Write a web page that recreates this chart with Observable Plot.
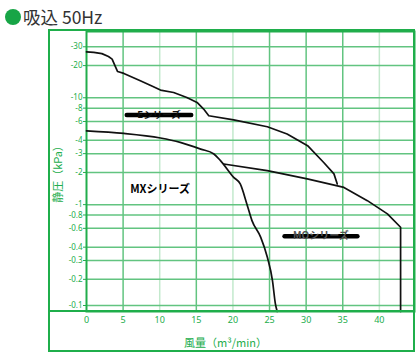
<!DOCTYPE html>
<html>
<head>
<meta charset="utf-8">
<script src="https://cdn.jsdelivr.net/npm/d3@7"></script>
<script src="https://cdn.jsdelivr.net/npm/@observablehq/plot@0.6"></script>
<style>
  html, body { margin: 0; padding: 0; background: #fff; }
  #wrap { position: relative; width: 420px; height: 356px; overflow: hidden; font-family: "Noto Sans CJK JP", "Noto Sans", sans-serif; }
  #title { position: absolute; left: 0; top: 0; height: 26px; width: 420px; }
  #dot { position: absolute; left: 5px; top: 9px; width: 16px; height: 16px; border-radius: 50%; background: #17a546; }
  #ttext { position: absolute; left: 23px; top: 6px; font-size: 17.5px; line-height: 22px; color: #333; white-space: nowrap; }
  #chart { position: absolute; left: 0; top: 26px; }
  #outer { position: absolute; left: 48px; top: 29px; width: 367px; height: 323px; box-sizing: border-box; border: 2px solid #1fae4b; pointer-events: none; }
  #bottomline { position: absolute; left: 48px; top: 310px; width: 367px; height: 2px; background: #1fae4b; }
</style>
</head>
<body>
<div id="wrap">
  <div id="title"><div id="dot"></div><div id="ttext">吸込 50Hz</div></div>
  <div id="chart"></div>
  <div id="outer"></div>
  <div id="bottomline"></div>
</div>
<script>
// ---- data ----
const xTicks = [0, 5, 10, 15, 20, 25, 30, 35, 40];
const xGridMajor = [5, 15, 25, 30, 35];
const xGridLight = [10, 20, 40];
const yTicks = [30, 20, 10, 8, 6, 4, 3, 2, 1, 0.8, 0.6, 0.4, 0.3, 0.2];
const yTickBottom = [0.1];

// Eシリーズ
const eX = [0, 1, 2.1, 3.0, 3.5, 3.9, 4.25, 5.1, 7.35, 9, 10.1, 11.9, 13.7, 15.1, 16.0, 16.7, 20.1, 24.7, 27.4, 30.2, 32.4, 33.8, 34.25];
const eY = [26.9, 26.6, 25.9, 24.3, 23, 19.9, 17.6, 16.9, 14.4, 12.8, 11.8, 11.2, 10.07, 9.04, 7.84, 6.79, 6.2, 5.36, 4.58, 3.56, 2.48, 1.94, 1.56];

// MXシリーズ
const mxX = [0, 5.1, 10.1, 12.8, 15.6, 17.4, 18.3, 20.1, 21.0, 21.9, 22.6, 23.8, 24.7, 25.4, 25.8, 26.05];
const mxY = [4.9, 4.64, 4.2, 3.82, 3.31, 2.98, 2.58, 1.80, 1.56, 1.015, 0.709, 0.494, 0.322, 0.195, 0.118, 0.1];

// MOシリーズ
const moX = [18.74, 24.68, 30.15, 35.16, 38.36, 41.1, 42.9, 42.9];
const moY = [2.40, 2.08, 1.74, 1.45, 1.09, 0.819, 0.614, 0.1];

// series labels
const labelText = ["Eシリーズ", "MXシリーズ", "MOシリーズ"];
const labelX = [9.9, 10.05, 32.0];
const labelY = [6.89, 1.40, 0.506];
const strikeX1 = [5.5, 27.05];
const strikeX2 = [14.3, 37.0];
const strikeY = [6.89, 0.506];

const green = "#22ad4c";
const gridMid = "#62c480";
const gridLight = "#c3e9cd";
const font = "'Noto Sans', 'Noto Sans CJK JP', sans-serif";

const toRows = (xs, ys) => xs.map((x, i) => ({x, y: ys[i]}));
const neg = d => "-" + d;

const chart = Plot.plot({
  width: 420,
  height: 330,
  marginTop: 5,
  marginBottom: 45,
  marginLeft: 86,
  marginRight: 6,
  style: { fontFamily: font, background: "transparent", overflow: "visible" },
  x: { domain: [0, 44.8] },
  y: { type: "log", domain: [0.1, 41.7] },
  marks: [
    Plot.gridX(xGridLight, { stroke: gridLight, strokeOpacity: 1, strokeWidth: 1.5 }),
    Plot.gridX(xGridMajor, { stroke: gridMid, strokeOpacity: 1, strokeWidth: 1.5 }),
    Plot.gridY(yTicks, { stroke: gridMid, strokeOpacity: 1, strokeWidth: 1.5 }),
    Plot.gridY(yTickBottom, { stroke: gridMid, strokeOpacity: 1, strokeWidth: 1.5, dy: -6 }),
    Plot.axisX(xTicks, { tickSize: 0, tickPadding: 5, color: green, fontSize: 9, label: null }),
    Plot.axisY(yTicks, { tickSize: 3, color: green, label: null, tickFormat: () => "" }),
    Plot.axisY(yTickBottom, { tickSize: 3, color: green, label: null, dy: -6, tickFormat: () => "" }),
    Plot.text(yTicks, { y: d => d, text: neg, frameAnchor: "left", textAnchor: "end", dx: -4, fill: green, fontSize: 8 }),
    Plot.text(yTickBottom, { y: d => d, text: neg, frameAnchor: "left", textAnchor: "end", dx: -4, dy: -6, fill: green, fontSize: 8 }),
    Plot.frame({ stroke: green, strokeWidth: 2 }),
    Plot.text(["静圧（kPa）"], { frameAnchor: "left", textAnchor: "middle", lineAnchor: "middle", rotate: -90, dx: -28, fill: green, fontSize: 11, fontFamily: "'Noto Sans CJK JP', sans-serif" }),
    Plot.text(["風量（m³/min）"], { frameAnchor: "bottom", textAnchor: "middle", lineAnchor: "middle", dx: -25, dy: 32, fill: green, fontSize: 11, fontFamily: "'Noto Sans CJK JP', sans-serif" }),
    Plot.line(toRows(eX, eY), { x: "x", y: "y", stroke: "#111", strokeWidth: 1.7 }),
    Plot.line(toRows(mxX, mxY), { x: "x", y: "y", stroke: "#111", strokeWidth: 1.7, curve: "monotone-x" }),
    Plot.line(toRows(moX, moY), { x: "x", y: "y", stroke: "#111", strokeWidth: 1.7 }),
    Plot.link(strikeX1, { x1: strikeX1, x2: strikeX2, y1: strikeY, y2: strikeY, stroke: "#000", strokeWidth: 4.5, strokeLinecap: "round" }),
    Plot.text(labelText, {
      x: labelX, y: labelY, text: d => d,
      fill: ["#111", "#000", "#555"],
      fontSize: [9.5, 11, 10],
      fontWeight: "bold",
      fontFamily: "'Noto Sans CJK JP', sans-serif"
    })
  ]
});
document.getElementById("chart").appendChild(chart);
</script>
</body>
</html>
